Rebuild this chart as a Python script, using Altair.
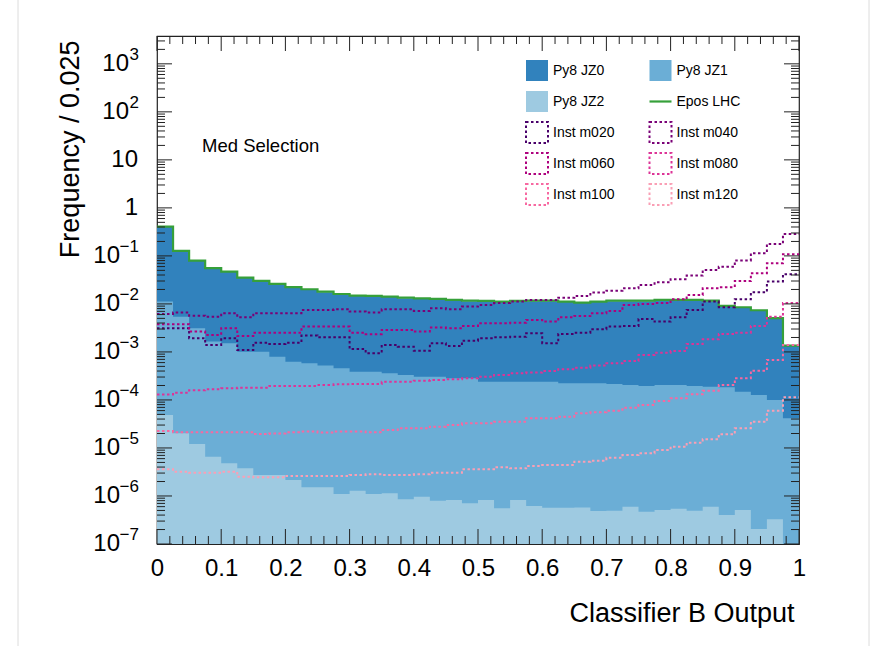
import altair as alt
import pandas as pd

FONT = "Liberation Sans"

# 40 bins of width 0.025 covering the classifier output range [0, 1]
bin_edges = [round(0.025 * i, 3) for i in range(41)]

epos_lhc = [0.407, 0.127, 0.0798, 0.0555, 0.0471, 0.0353, 0.0301, 0.0261, 0.0223, 0.0202,
            0.0180, 0.0161, 0.0149, 0.0147, 0.0142, 0.0135, 0.0131, 0.0127, 0.0121, 0.0117,
            0.01155, 0.0112, 0.01155, 0.0117, 0.0117, 0.0112, 0.0106, 0.0112, 0.0117, 0.0117,
            0.0117, 0.0121, 0.0121, 0.0121, 0.0117, 0.00908, 0.00853, 0.00739, 0.00504, 0.00135]

py8_jz0 = [0.398, 0.124, 0.0780, 0.0542, 0.0460, 0.0345, 0.0294, 0.0255, 0.0218, 0.0197,
           0.0176, 0.0157, 0.0146, 0.0144, 0.0139, 0.0132, 0.0128, 0.0124, 0.0118, 0.0114,
           0.0113, 0.0109, 0.0113, 0.0114, 0.0114, 0.0109, 0.0104, 0.0109, 0.0114, 0.0114,
           0.0114, 0.0118, 0.0118, 0.0118, 0.0114, 0.00890, 0.00835, 0.00723, 0.00493, 0.00135]

py8_jz1 = [0.0112, 0.00543, 0.00312, 0.00164, 0.00152, 0.00101, 0.00101, 0.000798, 0.000628, 0.000582,
           0.000519, 0.000457, 0.000389, 0.000389, 0.000360, 0.000332, 0.000305, 0.000305, 0.000283, 0.000283,
           0.000240, 0.000240, 0.000240, 0.000240, 0.000240, 0.000223, 0.000223, 0.000223, 0.000215, 0.000205,
           0.000196, 0.000205, 0.000205, 0.000196, 0.000189, 0.000184, 0.000149, 0.000127, 0.000100, 4.16e-5]

py8_jz2 = [4.87e-5, 2.02e-5, 1.21e-5, 6.59e-6, 4.80e-6, 3.78e-6, 2.74e-6, 2.74e-6, 2.15e-6, 1.52e-6,
           1.52e-6, 1.10e-6, 1.29e-6, 1.10e-6, 1.14e-6, 8.53e-7, 9.66e-7, 7.98e-7, 8.25e-7, 7.05e-7,
           8.25e-7, 5.54e-7, 8.25e-7, 6.19e-7, 5.70e-7, 5.70e-7, 5.75e-7, 4.87e-7, 4.93e-7, 5.98e-7,
           4.71e-7, 5.11e-7, 5.43e-7, 4.93e-7, 5.98e-7, 4.02e-7, 5.11e-7, 2.05e-7, 3.27e-7, 8.0e-8]

inst_m020 = [0.00312, 0.00312, 0.00193, 0.00140, 0.00193, 0.00110, 0.00156, 0.00147, 0.00156, 0.00219,
             0.00202, 0.00202, 0.00115, 0.00094, 0.00140, 0.00129, 0.00106, 0.00152, 0.00133, 0.00172,
             0.00193, 0.00202, 0.00208, 0.00245, 0.00152, 0.00237, 0.00252, 0.00297, 0.00337, 0.00348,
             0.00487, 0.00428, 0.00528, 0.00750, 0.0112, 0.00853, 0.0125, 0.0175, 0.0292, 0.0416]

inst_m040 = [0.00619, 0.00659, 0.00570, 0.00543, 0.00640, 0.00528, 0.00640, 0.00640, 0.00640, 0.00750,
             0.00750, 0.00776, 0.00692, 0.00659, 0.00776, 0.00776, 0.00715, 0.00813, 0.00776, 0.00879,
             0.00953, 0.0104, 0.0112, 0.0121, 0.0121, 0.0135, 0.0147, 0.0172, 0.0189, 0.0212,
             0.0249, 0.0283, 0.0327, 0.0389, 0.0511, 0.0598, 0.0805, 0.114, 0.178, 0.287]

inst_m060 = [0.00378, 0.00378, 0.00265, 0.00226, 0.00312, 0.00215, 0.00252, 0.00252, 0.00252, 0.00337,
             0.00337, 0.00337, 0.00252, 0.00234, 0.00287, 0.00287, 0.00265, 0.00321, 0.00312, 0.00348,
             0.00396, 0.00396, 0.00407, 0.00464, 0.00428, 0.00528, 0.00562, 0.00640, 0.00715, 0.00953,
             0.0100, 0.0104, 0.0125, 0.0154, 0.0212, 0.0223, 0.0301, 0.0437, 0.0705, 0.108]

inst_m080 = [0.000130, 0.000142, 0.000159, 0.000167, 0.000175, 0.000180, 0.000180, 0.000196, 0.000196, 0.000196,
             0.000205, 0.000212, 0.000215, 0.000215, 0.000240, 0.000240, 0.000252, 0.000261, 0.000270, 0.000283,
             0.000305, 0.000332, 0.000360, 0.000371, 0.000402, 0.000437, 0.000471, 0.000519, 0.000582, 0.000649,
             0.000866, 0.000966, 0.00105, 0.00147, 0.00184, 0.00237, 0.00252, 0.00348, 0.00543, 0.0104]

inst_m100 = [2.26e-5, 2.12e-5, 2.12e-5, 2.12e-5, 2.12e-5, 2.12e-5, 1.96e-5, 2.01e-5, 2.12e-5, 2.19e-5,
             2.09e-5, 2.19e-5, 2.19e-5, 2.12e-5, 2.37e-5, 2.57e-5, 2.57e-5, 2.78e-5, 3.01e-5, 3.27e-5,
             3.27e-5, 3.53e-5, 3.53e-5, 4.16e-5, 4.16e-5, 4.49e-5, 5.28e-5, 5.55e-5, 5.98e-5, 6.92e-5,
             7.87e-5, 9.53e-5, 1.08e-4, 1.32e-4, 1.56e-4, 2.05e-4, 2.83e-4, 4.07e-4, 6.81e-4, 1.40e-3]

inst_m120 = [3.60e-6, 3.21e-6, 3.05e-6, 3.05e-6, 3.21e-6, 2.52e-6, 2.45e-6, 2.45e-6, 2.61e-6, 2.61e-6,
             2.61e-6, 2.61e-6, 2.74e-6, 2.83e-6, 2.74e-6, 2.74e-6, 2.83e-6, 3.05e-6, 3.05e-6, 3.60e-6,
             3.60e-6, 3.96e-6, 3.78e-6, 4.22e-6, 4.42e-6, 4.42e-6, 5.19e-6, 5.43e-6, 6.28e-6, 7.14e-6,
             7.76e-6, 9.08e-6, 1.06e-5, 1.29e-5, 1.52e-5, 1.93e-5, 2.57e-5, 3.53e-5, 5.98e-5, 1.14e-4]

fill_series = [("Py8 JZ0", py8_jz0, "#3182bd"),
               ("Py8 JZ1", py8_jz1, "#6baed6"),
               ("Py8 JZ2", py8_jz2, "#9ecae1")]
epos_color = "#36a03a"
inst_series = [("Inst m020", inst_m020, "#49006a"),
               ("Inst m040", inst_m040, "#7a0177"),
               ("Inst m060", inst_m060, "#ae017e"),
               ("Inst m080", inst_m080, "#dd3497"),
               ("Inst m100", inst_m100, "#f768a1"),
               ("Inst m120", inst_m120, "#fa9fb5")]

# axis tick values
x_label_values = [round(0.1 * i, 1) for i in range(11)]
x_minor_values = [round(0.02 * i, 2) for i in range(51)]
y_decades = list(range(-7, 4))
y_exponent_text = {3: "3", 2: "2", -1: "\u22121", -2: "\u22122", -3: "\u22123", -4: "\u22124",
                   -5: "\u22125", -6: "\u22126", -7: "\u22127"}
y_plain_text = {1: "10", 0: "1"}

W, H = 642, 508
Y_MIN, Y_MAX = 1e-7, 3800

x_scale = alt.Scale(domain=[0, 1], nice=False, zero=False)
y_scale = alt.Scale(type="log", domain=[Y_MIN, Y_MAX], nice=False)

x_axis = alt.Axis(values=x_label_values, format=".1~f", labelFlush=False, labelOverlap=False,
                  labelFont=FONT, labelFontSize=24, labelColor="black", labelPadding=12,
                  ticks=False, domain=False, grid=False,
                  title="Classifier B Output", titleFont=FONT, titleFontSize=27,
                  titleFontWeight="normal", titleColor="black",
                  titleX=637, titleY=77, titleAlign="right", titleBaseline="alphabetic")
y_axis = alt.Axis(labels=False, ticks=False, domain=False, grid=False,
                  title="Frequency / 0.025", titleFont=FONT, titleFontSize=27,
                  titleFontWeight="normal", titleColor="black", titleAngle=270,
                  titleX=-79, titleY=4, titleAlign="right", titleBaseline="alphabetic")


def X(field):
    return alt.X(field, type="quantitative", scale=x_scale, axis=x_axis)


def Y(field, **kw):
    return alt.Y(field, type="quantitative", scale=y_scale, axis=y_axis, **kw)


def step_frame(values):
    return pd.DataFrame({"x": bin_edges, "y": list(values) + [values[-1]]})


layers = []

# filled histograms (overlaid, not stacked)
for name, vals, color in fill_series:
    layers.append(
        alt.Chart(step_frame(vals)).mark_area(interpolate="step-after", color=color, clip=True).encode(
            x=X("x"), y=Y("y", stack=None), y2=alt.value(H),
        )
    )

# Epos LHC outline
layers.append(
    alt.Chart(step_frame(epos_lhc)).mark_line(interpolate="step-after", color=epos_color,
                                               strokeWidth=2.2, clip=True).encode(x=X("x"), y=Y("y"))
)

# dotted instanton outlines
for name, vals, color in inst_series:
    layers.append(
        alt.Chart(step_frame(vals)).mark_line(interpolate="step-after", color=color, strokeWidth=2,
                                              strokeDash=[2.5, 2.5], clip=True).encode(x=X("x"), y=Y("y"))
    )

# inward ticks on all four sides
x_ticks = pd.DataFrame({"x": x_minor_values,
                        "len": [15 if abs(v * 10 - round(v * 10)) < 1e-6 else 8 for v in x_minor_values]})
y_tick_vals, y_tick_len = [], []
for d in range(-7, 4):
    for k in range(1, 10):
        v = k * 10.0 ** d
        if Y_MIN <= v <= Y_MAX:
            y_tick_vals.append(v)
            y_tick_len.append(15 if k == 1 else 8)
y_ticks = pd.DataFrame({"y": y_tick_vals, "len": y_tick_len})

tick_color = "#222222"
for side in ("bottom", "top"):
    base = alt.Chart(x_ticks).transform_calculate(
        py0=f"{H}" if side == "bottom" else "0",
        py1=f"{H} - datum.len" if side == "bottom" else "datum.len",
    )
    layers.append(base.mark_rule(color=tick_color, strokeWidth=1).encode(
        x=X("x"), y=alt.Y("py0:Q", scale=None), y2="py1:Q",
    ))
for side in ("left", "right"):
    base = alt.Chart(y_ticks).transform_calculate(
        px0="0" if side == "left" else f"{W}",
        px1="datum.len" if side == "left" else f"{W} - datum.len",
    )
    layers.append(base.mark_rule(color=tick_color, strokeWidth=1).encode(
        y=Y("y"), x=alt.X("px0:Q", scale=None), x2="px1:Q",
    ))

# y tick labels: base "10" with a raised exponent
y_lab = pd.DataFrame({
    "y": [10.0 ** d for d in y_decades],
    "base": [y_plain_text.get(d, "10") for d in y_decades],
    "exp": [y_exponent_text.get(d, "") for d in y_decades],
    "kind": ["plain" if d in y_plain_text else ("neg" if d < 0 else "pos") for d in y_decades],
})
label_style = dict(font=FONT, fontSize=24, color="black", align="right", baseline="middle")
for kind, xpos in (("plain", -19), ("pos", -28), ("neg", -37)):
    layers.append(
        alt.Chart(y_lab).transform_filter(f"datum.kind == '{kind}'").mark_text(**label_style).encode(
            y=Y("y"), x=alt.value(xpos), text="base:N")
    )
layers.append(
    alt.Chart(y_lab).transform_filter("datum.kind != 'plain'").mark_text(
        font=FONT, fontSize=17, color="black", align="right", baseline="middle", dy=-9).encode(
        y=Y("y"), x=alt.value(-18), text="exp:N")
)

# selection label
layers.append(
    alt.Chart(pd.DataFrame({"t": ["Med Selection"]})).mark_text(
        font=FONT, fontSize=18.5, color="black", align="left", baseline="middle").encode(
        x=alt.value(45), y=alt.value(110), text="t:N")
)

# legend in two columns
legend_names = [s[0] for s in fill_series] + ["Epos LHC"] + [s[0] for s in inst_series]
legend_colors = [s[2] for s in fill_series] + [epos_color] + [s[2] for s in inst_series]
legend_kinds = ["fill"] * 3 + ["line"] + ["dotted"] * 6
leg = pd.DataFrame({
    "label": legend_names, "color": legend_colors, "kind": legend_kinds,
    "col": [i % 2 for i in range(len(legend_names))],
    "row": [i // 2 for i in range(len(legend_names))],
})
leg_base = alt.Chart(leg).transform_calculate(
    sx="369 + datum.col * 123.5",
    sy="34.5 + datum.row * 31",
).transform_calculate(
    sx2="datum.sx + 22", sy0="datum.sy - 10.5", sy1="datum.sy + 10.5", tx="datum.sx + 27",
)
layers.append(leg_base.transform_filter("datum.kind == 'fill'").mark_rect().encode(
    x=alt.X("sx:Q", scale=None), x2="sx2:Q", y=alt.Y("sy0:Q", scale=None), y2="sy1:Q",
    color=alt.Color("color:N", scale=None)))
layers.append(leg_base.transform_filter("datum.kind == 'dotted'").mark_rect(
    fillOpacity=0, strokeWidth=2, strokeDash=[2.5, 2.5]).encode(
    x=alt.X("sx:Q", scale=None), x2="sx2:Q", y=alt.Y("sy0:Q", scale=None), y2="sy1:Q",
    stroke=alt.Stroke("color:N", scale=None)))
layers.append(leg_base.transform_filter("datum.kind == 'line'").mark_rule(strokeWidth=2.2).encode(
    x=alt.X("sx:Q", scale=None), x2="sx2:Q", y=alt.Y("sy:Q", scale=None),
    color=alt.Color("color:N", scale=None)))
layers.append(leg_base.mark_text(font=FONT, fontSize=14, color="black", align="left",
                                 baseline="middle").encode(
    x=alt.X("tx:Q", scale=None), y=alt.Y("sy:Q", scale=None), text="label:N"))

# thin light side edges of the canvas
edge = alt.Chart(pd.DataFrame({"k": [0]}))
edge_color = "#dcdcdc"
layers.append(edge.mark_rule(color=edge_color).encode(x=alt.value(-139), y=alt.value(-36), y2=alt.value(610)))
layers.append(edge.mark_rule(color=edge_color).encode(x=alt.value(712), y=alt.value(-36), y2=alt.value(610)))

chart = alt.layer(*layers).properties(
    width=W, height=H,
    autosize=alt.AutoSizeParams(type="none"),
    padding={"left": 157, "top": 36, "right": 90, "bottom": 102},
    background="white",
).configure_view(stroke="#222222", strokeWidth=1.2)

chart.save("out.html", embed_options={"renderer": "svg", "actions": False})
